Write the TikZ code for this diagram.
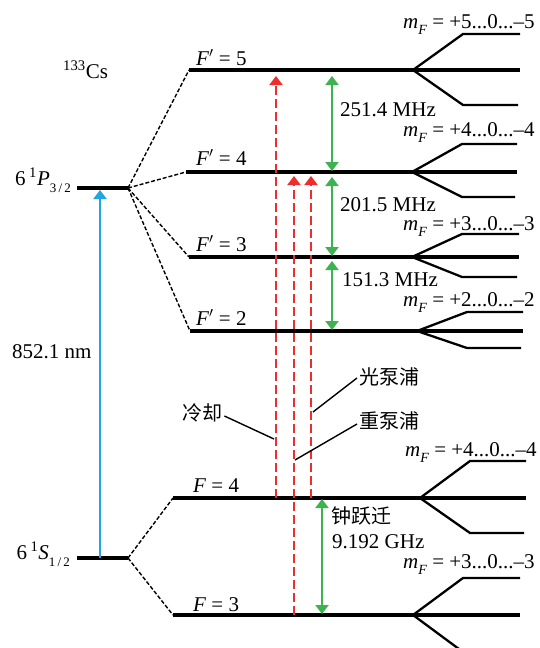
\documentclass[tikz,border=0pt]{standalone}
\usepackage{fontspec}
\setmainfont{Liberation Serif}
\newfontfamily\cjk{Noto Sans CJK SC}
\usetikzlibrary{arrows.meta}
\definecolor{lblue}{RGB}{35,165,225}
\definecolor{lred}{RGB}{238,45,45}
\definecolor{lgreen}{RGB}{60,178,80}
\newcommand{\msub}[1]{\raisebox{-0.38em}{\fontsize{13}{13}\selectfont #1}}
\newcommand{\mF}[2]{\textit{m}\raisebox{-0.33em}{\fontsize{14}{14}\selectfont\textit{F}} = +#1...0...–#2}
\begin{document}
\begin{tikzpicture}[x=1pt,y=-1pt,
  font=\fontsize{21}{25}\selectfont,
  lvl/.style={line width=3.1pt},
  biglvl/.style={line width=3.8pt},
  fan/.style={line width=2.3pt},
  conn/.style={line width=1.4pt, dash pattern=on 4pt off 2pt},
  redarr/.style={lred, line width=2.9pt, dash pattern=on 9pt off 4pt, -{Triangle[width=13pt,length=9pt]}},
  grnarr/.style={lgreen, line width=2.9pt, {Triangle[width=13pt,length=9pt]}-{Triangle[width=13pt,length=9pt]}},
  bluarr/.style={lblue, line width=2.9pt, -{Triangle[width=13pt,length=9pt]}},
  leader/.style={line width=1.4pt},
  txt/.style={inner sep=0pt, anchor=base west},
  cjktxt/.style={inner sep=0pt, anchor=west, font=\fontsize{20}{24}\selectfont\cjk}]
\useasboundingbox (0,0) rectangle (539,648);
% fine structure levels
\coordinate (pl) at (77,188); \coordinate (pr) at (128,188);
\coordinate (sl) at (77,558); \coordinate (sr) at (128,558);
\draw[biglvl] (pl) -- (pr);
\draw[biglvl] (sl) -- (sr);
% hyperfine levels with Zeeman fans
\foreach \n/\lx/\y/\vx/\uy/\dy/\ex in {e5/189/70/413/34/105/520, e4/186/172/412/144/197/517, e3/189/257/412/234/277/519, e2/190/331/417/312/348/523, g4/173/498/420/461/533/526, g3/173/615/413/578/652/520}{
  \coordinate (\n l) at (\lx,\y);
  \coordinate (\n v) at (\vx,\y);
  \coordinate (\n m) at (\ex,\y);
  \coordinate (\n u) at (\vx+50,\uy);
  \coordinate (\n ue) at (\ex,\uy);
  \coordinate (\n d) at (\vx+50,\dy);
  \coordinate (\n de) at (\ex-2,\dy);
  \draw[lvl] (\n l) -- (\n m);
  \draw[fan] (\n v) -- (\n u) -- (\n ue);
  \draw[fan] (\n v) -- (\n d) -- (\n de);
}
% dashed connectors
\foreach \t in {e5l,e4l,e3l,e2l} \draw[conn] (pr) -- (\t);
\foreach \t in {g4l,g3l} \draw[conn] (sr) -- (\t);
% level labels
\node[txt] (cs) at (63,78) {\textsuperscript{133}Cs};
\node[inner sep=0pt, anchor=base east] (plab) at (71,185) {6\,\textsuperscript{1}\textit{P}\msub{3\,/\,2}};
\node[inner sep=0pt, anchor=base east] (slab) at (70,559) {6\,\textsuperscript{1}\textit{S}\msub{1\,/\,2}};
\node[txt] (f5) at (196,65) {\textit{F}$'$ = 5};
\node[txt] (f4) at (196,165) {\textit{F}$'$ = 4};
\node[txt] (f3) at (196,251) {\textit{F}$'$ = 3};
\node[txt] (f2) at (196,325) {\textit{F}$'$ = 2};
\node[txt] (g4t) at (193,492) {\textit{F} = 4};
\node[txt] (g3t) at (193,611) {\textit{F} = 3};
% mF labels
\node[txt] (m5) at (403,28) {\mF{5}{5}};
\node[txt] (m4) at (403,136) {\mF{4}{4}};
\node[txt] (m3) at (403,230) {\mF{3}{3}};
\node[txt] (m2) at (403,306) {\mF{2}{2}};
\node[txt] (mg4) at (405,456) {\mF{4}{4}};
\node[txt] (mg3) at (403,568) {\mF{3}{3}};
% blue D2 arrow
\coordinate (bb) at (100,558); \coordinate (bt) at (100,190);
\draw[bluarr] (bb) -- (bt);
\node[txt] (nm) at (12,358) {852.1 nm};
% red laser arrows
\coordinate (c0) at (276,498); \coordinate (c1) at (276,76);
\coordinate (r0) at (294,615); \coordinate (r1) at (294,176);
\coordinate (o0) at (311,498); \coordinate (o1) at (311,176);
\draw[redarr] (c0) -- (c1);
\draw[redarr] (r0) -- (r1);
\draw[redarr] (o0) -- (o1);
% green splittings
\coordinate (h1t) at (332,76); \coordinate (h1b) at (332,171);
\coordinate (h2t) at (332,177); \coordinate (h2b) at (332,256);
\coordinate (h3t) at (332,261); \coordinate (h3b) at (332,330);
\coordinate (h4t) at (322,499); \coordinate (h4b) at (322,614);
\draw[grnarr] (h1t) -- (h1b);
\draw[grnarr] (h2t) -- (h2b);
\draw[grnarr] (h3t) -- (h3b);
\draw[grnarr] (h4t) -- (h4b);
\node[txt] (s1) at (340,116) {251.4 MHz};
\node[txt] (s2) at (340,211) {201.5 MHz};
\node[txt] (s3) at (342,286) {151.3 MHz};
\node[cjktxt] (clk) at (331,516) {钟跃迁};
\node[txt] (ghz) at (332,548) {9.192 GHz};
% transition labels with leaders
\node[cjktxt] (cool) at (182,413) {冷却};
\node[cjktxt] (opt) at (359,377) {光泵浦};
\node[cjktxt] (rep) at (359,421) {重泵浦};
\coordinate (coolp) at (274,439);
\coordinate (optp) at (313,412);
\coordinate (repp) at (295,460);
\draw[leader] (cool.east) ++(2,3) -- (coolp);
\draw[leader] (opt.west) ++(-2,1) -- (optp);
\draw[leader] (rep.west) ++(-2,3) -- (repp);
\end{tikzpicture}
\end{document}
